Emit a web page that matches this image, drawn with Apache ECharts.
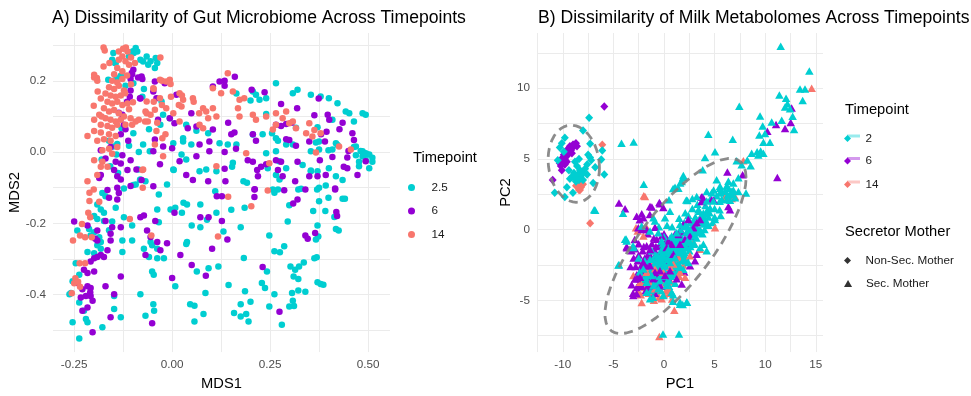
<!DOCTYPE html>
<html><head><meta charset="utf-8">
<script src="https://cdn.jsdelivr.net/npm/echarts@6/dist/echarts.min.js"></script>
<style>html,body{margin:0;padding:0;background:#fff}#c{width:971px;height:396px}</style>
</head><body><div id="c"></div>
<script>
// ---------- Panel A: Gut microbiome MDS (Timepoint 2.5 / 6 / 14) ----------
const a_t25 = [
[-0.093,0.292],[-0.1,0.283],[-0.065,0.268],[-0.074,0.254],[-0.061,0.245],[-0.042,0.264],[-0.15,0.278],[-0.146,0.25],[-0.11,0.268],[-0.098,0.278],[-0.044,0.236],[-0.142,0.207],[-0.099,0.193],[-0.163,0.203],[-0.027,0.142],[-0.006,0.095],[-0.023,0.105],[0.062,0.06],[0.036,0.077],[0.092,0.053],[0.121,0.025],[0.142,0.021],[0.164,0.021],[0.206,0.049],[0.206,0.17],[0.214,0.161],[0.24,0.151],[0.223,0.147],[0.265,0.193],[0.308,0.165],[0.32,0.175],[0.354,0.161],[0.379,0.156],[0.4,0.151],[0.422,0.137],[0.443,0.114],[0.452,0.109],[0.486,0.109],[0.494,0.105],[0.409,0.091],[0.464,0.086],[0.375,0.03],[0.418,0.025],[0.354,0.002],[0.375,0.007],[0.409,0.007],[0.469,0.016],[0.486,0.002],[0.494,-0.003],[0.503,-0.007],[0.511,-0.016],[0.486,-0.012],[0.503,-0.045],[0.477,-0.04],[0.308,0.021],[0.265,0.039],[0.291,0.021],[0.265,0.002],[0.273,-0.026],[0.291,-0.045],[0.333,-0.036],[0.354,-0.054],[0.371,-0.054],[0.4,-0.045],[0.435,-0.078],[0.24,-0.003],[0.244,-0.045],[0.265,-0.064],[0.003,0.025],[0.028,0.03],[0.049,0.021],[0.024,-0.007],[0.003,-0.049],[0.036,-0.021],[0.07,-0.054],[0.087,-0.049],[0.113,-0.054],[-0.074,0.021],[-0.057,0.002],[-0.086,-0.049],[-0.082,-0.078],[-0.099,-0.092],[-0.15,0.016],[-0.142,-0.007],[-0.158,-0.04],[-0.138,-0.059],[-0.18,-0.021],[-0.129,0.067],[-0.099,0.053],[0.028,0.039],[0.155,-0.03],
[-0.153,0.259],[-0.144,0.25],[-0.081,0.259],[-0.055,0.255],[-0.038,0.25],[-0.089,0.282],[-0.076,0.155],[-0.059,0.064],[-0.03,0.077],[-0.11,0.018],[-0.161,0.032],[-0.14,0.023],[-0.072,0.177],[-0.131,0.214],[-0.119,0.186],[-0.085,0.0],[-0.081,-0.077],[-0.068,-0.082],[-0.093,-0.091],[-0.013,-0.091],[0.004,-0.05],
[0.24,0.107],[0.164,0.164],[0.2,0.145],[0.231,0.05],[0.27,0.032],[0.255,0.053],[0.367,0.027],[0.399,0.005],[0.422,0.02],[0.464,0.014],[0.469,-0.009],[0.481,0.003],[0.49,-0.003],[0.498,-0.007],[0.511,-0.027],[0.494,-0.023],[0.477,-0.027],[0.354,-0.052],[0.418,-0.068],[0.392,-0.094],[0.153,-0.041],[0.182,-0.082],[0.191,-0.086],[0.274,-0.077],[0.257,-0.105],[0.329,-0.103],[0.375,-0.1],[0.316,0.068],[0.371,0.07],
[-0.178,-0.115],[-0.17,-0.124],[-0.123,-0.102],[-0.191,-0.147],[-0.182,-0.161],[-0.174,-0.17],[-0.199,-0.179],[-0.191,-0.188],[-0.174,-0.193],[-0.212,-0.216],[-0.199,-0.225],[-0.186,-0.239],[-0.182,-0.252],[-0.208,-0.234],[-0.242,-0.22],[-0.191,-0.261],[-0.182,-0.271],[-0.216,-0.28],[-0.199,-0.284],[-0.246,-0.312],[-0.237,-0.344],[-0.254,-0.362],[-0.258,-0.395],[-0.262,-0.399],[-0.237,-0.422],[-0.225,-0.445],[-0.22,-0.468],[-0.216,-0.477],[-0.254,-0.477],[-0.237,-0.523],[-0.178,-0.491],[-0.131,-0.463],[-0.148,-0.404],[-0.148,-0.44],[-0.161,-0.219],[-0.123,-0.183],[-0.127,-0.248],[-0.102,-0.206],[-0.102,-0.248],[-0.127,-0.28],[-0.072,-0.271],[-0.055,-0.252],[-0.051,-0.261],[-0.059,-0.294],[-0.038,-0.271],[-0.038,-0.298],[-0.021,-0.298],[-0.034,-0.197],[-0.051,-0.335],[-0.047,-0.344],[-0.081,-0.399],[-0.048,-0.427],[-0.046,-0.445],[-0.068,-0.459],[0.008,-0.376],[-0.034,-0.119],[-0.038,-0.161],[-0.004,-0.161],[0.008,-0.156],[0.025,-0.17],[0.029,-0.142],[0.038,-0.147],[0.072,-0.147],[0.113,-0.17],[0.05,-0.206],[0.072,-0.211],[0.038,-0.252],[0.036,-0.258],[0.063,-0.335],[0.093,-0.326],[0.118,-0.321],[0.085,-0.395],[0.046,-0.427],[0.057,-0.431],[0.057,-0.475],[0.08,-0.454],[0.089,-0.19],[0.11,-0.11],[-0.144,-0.156],[-0.153,-0.195],
[0.261,-0.114],[0.27,-0.105],[0.322,-0.105],[0.37,-0.105],[0.299,-0.149],[0.375,-0.138],[0.399,-0.128],[0.435,-0.131],[0.441,-0.131],[0.36,-0.165],[0.391,-0.165],[0.414,-0.182],[0.295,-0.195],[0.371,-0.206],[0.418,-0.216],[0.425,-0.22],[0.151,-0.162],[0.185,-0.156],[0.131,-0.223],[0.175,-0.211],[0.248,-0.234],[0.367,-0.245],[0.373,-0.237],[0.286,-0.264],[0.261,-0.278],[0.275,-0.281],[0.363,-0.298],[0.369,-0.295],[0.183,-0.297],[0.242,-0.335],[0.302,-0.321],[0.314,-0.33],[0.324,-0.321],[0.336,-0.31],[0.31,-0.349],[0.322,-0.356],[0.229,-0.367],[0.237,-0.381],[0.144,-0.373],[0.186,-0.39],[0.371,-0.365],[0.379,-0.37],[0.386,-0.372],[0.261,-0.399],[0.306,-0.395],[0.322,-0.388],[0.34,-0.392],[0.2,-0.42],[0.175,-0.427],[0.158,-0.451],[0.189,-0.454],[0.175,-0.461],[0.195,-0.475],[0.248,-0.433],[0.299,-0.433],[0.311,-0.432],[0.308,-0.417],[0.28,-0.484]
];
const a_t6 = [
[-0.099,0.231],[-0.103,0.222],[-0.078,0.212],[-0.044,0.198],[-0.019,0.193],[-0.082,0.151],[-0.108,0.155],[-0.048,0.17],[-0.04,0.151],[0.011,0.161],[0.104,0.184],[0.121,0.198],[0.104,0.063],[0.095,0.03],[0.07,0.021],[0.049,0.109],[0.04,0.067],[0.062,0.072],[-0.006,0.095],[0.006,0.081],[-0.036,0.091],[-0.044,0.035],[-0.023,0.016],[-0.048,0.002],[0.0,0.011],[-0.031,-0.034],[0.019,-0.026],[0.062,-0.012],[0.095,0.002],[0.036,-0.064],[0.053,-0.078],[0.092,-0.082],[-0.048,-0.096],[-0.091,-0.049],[-0.078,-0.078],
[-0.106,0.205],[-0.102,0.218],[-0.087,0.209],[-0.106,0.173],[-0.081,0.15],[-0.076,0.205],[-0.115,0.141],[-0.127,0.105],[-0.136,0.11],[-0.123,0.077],[-0.119,0.064],[-0.131,0.05],[-0.112,0.032],[-0.182,0.005],[-0.157,0.014],[-0.17,-0.018],[-0.144,-0.027],[-0.131,-0.032],[-0.127,-0.009],[-0.106,-0.023],[-0.114,-0.05],[-0.148,-0.05],[-0.14,-0.068],[-0.131,-0.077],[-0.182,-0.064],[-0.186,-0.073],[-0.106,-0.095],[-0.14,-0.1],
[0.134,0.2],[0.16,0.211],[0.134,0.186],[0.203,0.175],[0.236,0.168],[0.278,0.135],[0.374,0.15],[0.319,0.123],[0.363,0.103],[0.397,0.105],[0.401,0.091],[0.435,0.082],[0.427,0.064],[0.46,0.053],[0.143,0.082],[0.151,0.05],[0.159,0.055],[0.206,0.05],[0.214,0.032],[0.265,0.077],[0.278,0.073],[0.291,0.079],[0.305,0.082],[0.291,0.036],[0.299,0.034],[0.316,0.018],[0.38,0.05],[0.394,0.057],[0.39,0.03],[0.35,0.03],[0.45,0.003],[0.447,-0.015],[0.464,0.034],[0.134,0.0],[0.163,0.009],[0.193,-0.023],[0.206,-0.027],[0.217,-0.05],[0.227,-0.041],[0.24,-0.034],[0.265,-0.023],[0.278,-0.027],[0.32,-0.027],[0.377,-0.023],[0.409,-0.014],[0.438,-0.041],[0.134,-0.047],[0.136,-0.082],[0.211,-0.104],[0.219,-0.068],[0.27,-0.05],[0.282,-0.068],[0.314,-0.082],[0.35,-0.068],[0.371,-0.068],[0.392,-0.064],[0.416,-0.102],[0.473,-0.064],[0.494,-0.026],[0.447,-0.045],
[-0.165,-0.106],[-0.136,-0.115],[-0.14,-0.133],[-0.161,-0.128],[-0.25,-0.195],[-0.216,-0.206],[-0.191,-0.22],[-0.17,-0.193],[-0.153,-0.211],[-0.131,-0.211],[-0.157,-0.229],[-0.191,-0.248],[-0.157,-0.248],[-0.165,-0.275],[-0.191,-0.294],[-0.182,-0.289],[-0.199,-0.298],[-0.174,-0.294],[-0.208,-0.307],[-0.225,-0.33],[-0.216,-0.339],[-0.199,-0.335],[-0.242,-0.367],[-0.216,-0.376],[-0.208,-0.381],[-0.229,-0.385],[-0.22,-0.404],[-0.208,-0.404],[-0.233,-0.408],[-0.203,-0.417],[-0.216,-0.436],[-0.229,-0.445],[-0.203,-0.505],[-0.17,-0.376],[-0.148,-0.399],[-0.131,-0.349],[-0.157,-0.463],[-0.081,-0.183],[-0.072,-0.178],[-0.064,-0.22],[-0.055,-0.238],[-0.043,-0.193],[-0.038,-0.252],[-0.03,-0.275],[-0.013,-0.256],[-0.068,-0.289],[0.021,-0.289],[0.006,-0.17],[0.072,-0.183],[0.093,-0.183],[0.102,-0.271],[0.05,-0.317],[0.086,-0.347],[0.0,-0.353],[-0.051,-0.48],[0.114,-0.124],[0.127,-0.124],[-0.196,-0.243],[-0.209,-0.393],
[0.21,-0.105],[0.21,-0.126],[0.286,-0.107],[0.34,-0.105],[0.416,-0.105],[0.32,-0.133],[0.309,-0.144],[0.419,-0.168],[0.421,-0.179],[0.127,-0.193],[0.141,-0.245],[0.34,-0.234],[0.346,-0.243],[0.365,-0.227],[0.231,-0.322],[0.274,-0.448]
];
const a_t14 = [
[-0.175,0.293],[-0.118,0.293],[-0.03,0.265],[-0.199,0.217],[-0.192,0.208],[-0.031,0.203],[-0.006,0.203],[-0.015,0.198],[0.142,0.221],[-0.048,0.179],[0.019,0.165],[0.053,0.151],[0.028,0.147],[-0.031,0.151],[0.104,0.179],[0.125,0.165],[0.155,0.17],[0.172,0.147],[0.184,0.151],[0.079,0.123],[0.087,0.114],[-0.065,0.142],[-0.044,0.119],[-0.015,0.123],[0.024,0.128],[0.003,0.109],[0.069,0.109],[0.104,0.123],[0.113,0.1],[0.092,0.095],[0.019,0.086],[-0.065,0.109],[-0.069,0.086],[0.168,0.123],[0.172,0.1],[0.206,0.105],[0.214,0.091],[0.24,0.1],[0.265,0.109],[0.282,0.095],[0.291,0.114],[0.299,0.081],[0.308,0.086],[0.265,0.077],[0.257,0.063],[0.316,0.067],[0.35,0.081],[0.342,0.053],[0.363,0.062],[0.379,0.053],[0.358,0.044],[0.426,0.016],[0.456,0.007],[0.367,-0.001],[0.079,0.067],[0.07,0.077],[0.189,-0.003],[-0.023,-0.012],[-0.044,0.021],[-0.025,0.039],[0.248,-0.031],[0.113,-0.04],[-0.074,-0.049],
[-0.172,0.285],[-0.136,0.282],[-0.114,0.282],[-0.127,0.268],[-0.136,0.259],[-0.119,0.255],[-0.11,0.245],[-0.14,0.236],[-0.127,0.227],[-0.148,0.218],[-0.153,0.2],[-0.14,0.195],[-0.127,0.205],[-0.199,0.209],[-0.191,0.2],[-0.161,0.182],[-0.148,0.177],[-0.136,0.186],[-0.123,0.173],[-0.17,0.164],[-0.157,0.159],[-0.144,0.155],[-0.131,0.159],[-0.182,0.15],[-0.165,0.141],[-0.153,0.136],[-0.14,0.141],[-0.127,0.132],[-0.114,0.136],[-0.174,0.123],[-0.161,0.114],[-0.148,0.118],[-0.136,0.109],[-0.123,0.1],[-0.186,0.105],[-0.17,0.095],[-0.157,0.091],[-0.144,0.086],[-0.131,0.091],[-0.106,0.095],[-0.093,0.086],[-0.199,0.091],[-0.182,0.077],[-0.165,0.073],[-0.153,0.068],[-0.14,0.077],[-0.119,0.077],[-0.102,0.077],[-0.216,0.045],[-0.199,0.059],[-0.182,0.055],[-0.161,0.05],[-0.144,0.045],[-0.174,0.036],[-0.157,0.032],[-0.191,0.032],[-0.161,0.009],[-0.178,0.005],[-0.14,0.014],[-0.153,-0.005],[-0.199,-0.023],[-0.178,-0.027],[-0.165,-0.041],[-0.182,-0.041],[-0.191,-0.064],[-0.216,-0.082],[-0.076,-0.05],[-0.068,0.114],[-0.055,0.105],[-0.038,0.082],[-0.026,0.2],[-0.004,0.191],[-0.047,0.177],[-0.047,0.141],[-0.026,0.132],[-0.003,0.155],[-0.017,0.05],[-0.04,0.059],[-0.062,0.086],[-0.085,0.091],[0.025,0.159],[0.017,0.132],[0.055,0.141],[-0.105,0.265],[-0.095,0.25],[-0.125,0.29],[-0.16,0.25],[-0.175,0.24],[-0.115,0.215],[-0.105,0.19],[-0.12,0.165],[-0.1,0.14],[-0.11,0.12],[-0.2,0.13],[-0.19,0.17],[-0.18,0.1],
[-0.211,-0.114],[-0.2,-0.105],[-0.211,-0.137],[-0.186,-0.139],[-0.214,-0.17],[-0.108,-0.188],[-0.209,-0.183],[-0.23,-0.202],[-0.253,-0.248],[-0.235,-0.234],[-0.222,-0.239],[-0.205,-0.239],[-0.053,-0.234],[0.117,-0.237],[0.143,-0.125],[0.202,-0.152],[0.244,-0.108],[-0.236,-0.312],[-0.222,-0.312],[-0.247,-0.354],[-0.25,-0.368],[-0.24,-0.364],[-0.256,-0.396],[-0.235,-0.378],[-0.075,-0.1]
];
const a_xTicks = [-0.25, 0, 0.25, 0.5];
const a_xGrid = [-0.25, -0.125, 0, 0.125, 0.25, 0.375, 0.5];
const a_yTicks = [-0.4, -0.2, 0, 0.2];
const a_yGrid = [-0.5, -0.4, -0.3, -0.2, -0.1, 0, 0.1, 0.2, 0.3];
const a_levels = ['2.5', '6', '14'];

// ---------- Panel B: Milk metabolome PCA (Timepoint 2 / 6 / 14 x Secretor) ----------
// Non-secretor mothers (diamonds)
const b_t2_ns = [[-7.4,7.9],[-8.0,7.0],[-9.8,6.5],[-10.3,5.8],[-6.1,5.6],[-7.5,5.3],[-7.3,5.1],[-6.2,4.95],[-6.8,4.4],[-10.5,4.9],[-8.6,4.5],[-8.3,4.2],[-8.9,4.0],[-9.1,3.7],[-8.2,3.8],[-7.8,4.3],[-7.6,4.6],[-8.7,3.4],[-9.3,3.6],[-8.0,3.5],[-7.6,3.9],[-5.9,3.9],[-10.8,2.6],[-9.6,3.0],[-9.8,2.3],[-9.0,2.6],[-7.2,4.9],[-9.9,5.5],[-10.1,6.1],[-7.0,3.3],[-8.4,5.0],[-7.3,6.07],[-8.8,4.8],[-9.4,4.2],[-8.5,3.9],[-8.7,3.6],[-8.4,3.5],[-8.1,4.0],[-8.9,3.9]];
const b_t6_ns = [[-10.3,4.7],[-10.1,4.9],[-10.0,5.1],[-9.8,5.0],[-9.9,5.3],[-9.6,5.2],[-9.7,5.5],[-9.4,5.4],[-9.5,5.7],[-9.2,5.6],[-9.3,5.9],[-9.0,5.8],[-8.9,6.0],[-8.7,6.1],[-8.6,5.9],[-9.1,5.4],[-9.8,4.6],[-10.2,4.5],[-10.1,4.2],[-9.6,4.8],[-5.9,8.7],[-11.0,3.5],[-9.4,5.6],[-9.6,5.4],[-9.8,5.2],[-10.0,4.9],[-9.2,5.8],[-9.0,6.0]];
const b_t14_ns = [[-6.1,6.0],[-8.5,3.3],[-8.2,3.0],[-8.4,2.8],[-8.0,3.2],[-8.7,3.1],[-7.3,0.45],[-10.1,5.0],[-8.3,2.8]];
// Secretor mothers (triangles): points seen on top
const b_t2_s = [[-4.2,6.1],[-3.0,6.2],[-2.0,3.2],[-6.9,1.4],[-4.05,1.15],[-6.8,1.36],[-3.75,-0.66],[-3.06,-1.15],[-4.45,-2.48],[2.27,-5.14],[1.58,-5.28],[0.89,-5.07],[-0.1,-7.38],[1.48,-7.38],[-1.09,-4.79],
[0.49,2.11],[2.31,2.06],[1.42,2.93],[3.23,2.34],[4.22,2.69],[4.9,2.8],[5.53,2.93],[6.2,3.1],[6.85,2.8],[6.69,2.46],[7.35,2.7],[8.1,2.58],[6.19,2.11],[6.3,2.45],[4.55,1.53],[3.89,1.18],[3.4,1.4],[5.04,0.71],[4.22,0.48],[3.56,0.01],[3.06,-0.45],[2.57,0.01],[2.08,0.24],[1.58,0.36],[1.25,-0.22],[0.76,-0.45],[2.31,-0.8],[2.9,-1.04],[3.56,-1.27],[3.89,-1.04],[4.22,-1.5],[1.58,-1.62],[1.9,-2.09],[2.4,-2.32],[1.58,-2.67],[1.09,-1.97],[0.59,-2.32],[0.43,-1.39],[-0.07,-1.85],[-0.56,-2.32],[0.1,-2.55],[-0.4,-3.6],[0.26,-3.72],[-1.05,-3.95],[-1.71,-3.72],[-1.21,-3.25],[0.76,-4.42],[-0.07,-4.65],[-1.38,-4.88],[1.58,-5.12],[2.24,-5.12],[1.85,-5.3],[-4.51,-2.51],[-3.85,-0.69],[-3.7,-0.8],[-3.03,-1.27],[-2.21,0.25],[-1.05,0.83],[-0.9,0.6],[0.1,0.83],[0.59,1.3],[-1.38,-0.1],[-0.56,-0.22],[-0.23,-0.8],[-1.38,-2.09],[-2.04,-2.79],[-1.71,-4.42],[-0.56,-4.18],[0.26,-3.95],[0.9,2.9],[1.6,3.3],[1.9,3.7],
[11.53,12.97],[14.36,11.22],[13.44,9.94],[13.93,9.94],[13.7,9.12],[11.4,9.52],[12.06,9.29],[12.2,8.9],[11.96,8.66],[12.45,8.54],[12.71,8.01],[11.63,7.73],[9.49,8.03],[9.75,7.33],[10.64,7.61],[9.42,6.68],[9.98,6.8],[9.82,6.17],[10.47,6.17],[12.85,7.08],[7.44,8.73],[6.79,6.38],[4.38,6.75],[5.04,5.51],[4.05,5.09],[3.82,4.23],[8.66,5.39],[9.2,5.5],[9.55,5.56],[9.82,5.39],[9.32,5.28],[8.23,4.93],[8.56,4.51],[7.67,4.58],[7.18,4.86],[1.91,3.83],[1.75,3.4],[1.09,3.0],[2.2,2.1],[5.2,3.53],[5.53,3.07],[6.36,3.42],[6.85,3.3],[7.35,3.66],[6.03,2.72],[6.69,2.72],[5.53,2.6],[4.71,2.6],[7.02,2.25],[4.88,2.02],[4.22,2.02],[5.7,2.14],[6.52,2.07]];
const b_t6_s = [[-4.45,1.88],[-3.85,1.48],[-2.7,0.94],[-2.4,0.7],[-2.04,0.83],[-2.54,0.13],[-2.2,0.0],[-1.71,0.01],[-0.89,0.17],[-0.46,1.92],[-0.07,1.57],[-1.38,1.64],[-3.69,-1.22],[-3.2,-1.5],[-1.71,-1.15],[-1.38,-1.4],[-0.72,-0.69],[-0.23,-0.45],[0.43,-0.8],[0.26,-1.27],[0.76,-1.04],[0.92,-1.74],[1.58,-1.04],[2.07,-0.69],[2.57,-0.45],[2.9,0.13],[3.56,0.71],[3.23,0.48],[2.4,0.71],[1.9,0.36],[1.4,-0.34],[-2.04,-2.32],[-1.38,-2.55],[-0.89,-3.02],[-0.4,-2.9],[0.1,-3.25],[0.59,-2.9],[1.25,-3.48],[1.75,-3.84],[-2.37,-3.37],[-2.87,-3.49],[-2.7,-4.53],[-3.03,-4.65],[-1.55,-3.95],[-0.4,-3.95],[-1.05,-3.48],[2.57,-2.55],[3.06,-2.2],[3.23,-1.74],[3.72,1.99],[4.71,2.11],[6.36,1.64],[6.52,1.4],[-2.87,-1.36],[-3.66,-1.29],[-3.06,-4.5],[-2.67,-3.46],[-1.88,-2.55],[-1.2,1.6],[-0.4,1.83],[-2.2,1.13],[-1.4,1.06],[3.7,2.3],
[6.26,4.07],[7.77,3.88],[11.2,3.69],[12.61,8.59],[12.52,7.57],[11.07,7.43],[11.96,7.15],[10.21,6.96],[3.82,2.3],[4.9,2.1]];
const b_t14_s = [[-1.88,2.34],[-2.77,0.13],[-2.6,-0.1],[-1.71,0.13],[-2.04,-0.45],[6.19,2.34],[6.69,2.2],[7.02,2.34],[5.04,0.13],[3.56,-1.39],[2.57,-1.85],[1.42,-1.97],[0.92,-2.44],[0.59,-2.67],[-0.07,-3.02],[-0.89,-2.79],[-1.71,-3.02],[-1.88,-2.67],[-2.37,-3.72],[-1.38,-3.83],[-0.89,-4.18],[-0.07,-3.95],[0.43,-4.18],[-0.23,-4.88],[-2.21,-5.16],[1.02,-5.7],[-0.46,-7.56],[-3.03,-3.25],[1.58,-3.02],[2.08,-3.37],[14.59,9.99],[7.84,4.86],[6.69,2.32],[6.03,2.25],[-2.0,2.4]];
// Secretor mothers (triangles): dense, overlapping core of the cloud (largely hidden)
const b_t2_s_core = [[2.5,-0.5],[3.0,0.3],[3.5,-0.2],[4.0,0.8],[4.5,1.2],[5.0,1.5],[5.5,2.0],[6.0,2.3],[2.0,-1.0],[1.5,-1.3],[1.0,-2.0],[0.5,-2.5],[0.0,-3.0],[3.0,-1.0],[4.0,0.0],[4.8,0.5],[5.6,1.0],[2.2,-2.2],[1.0,-3.2],[0.3,-3.3],[-0.5,-3.0],[-1.0,-3.3],
[-1.5,-2.8],[-1.0,-2.5],[-0.8,-1.8],[-0.3,-1.5],[0.2,-1.0],[0.6,-0.6],[1.0,-0.9],[1.3,-1.4],[1.8,-0.6],[2.2,-0.2],[2.6,0.5],[3.1,0.9],[3.5,1.3],[4.1,1.7],[4.6,2.2],[5.2,2.4],[5.8,2.6],[6.4,2.9],[0.0,-2.0],[0.4,-1.9],[0.8,-1.5],[1.2,-0.5],[1.6,0.0],[2.0,0.5],[2.4,1.0],[2.8,1.5],[3.3,1.8],[3.8,2.1],[-0.5,-2.6],[-0.2,-2.2],[0.3,-2.8],[0.7,-3.3],[1.2,-2.6],[1.6,-2.2],[2.0,-1.6],[2.6,-1.2],[3.2,-0.6],[3.8,-0.3],[4.4,0.3],[5.0,0.9],[5.5,1.4],[-1.8,-3.4],[-1.4,-3.0],[-0.8,-3.8],[-0.3,-4.3],[0.5,-4.0],[1.1,-3.8],[0.9,-4.6],[-2.5,-2.0],[-1.2,-1.5],[0.0,-0.5],[0.8,0.2],[1.5,0.8],[2.1,1.2],[2.8,2.2],[-0.5,0.2],[0.3,0.3],
[-2.0,-3.5],[-1.6,-3.2],[-1.2,-2.9],[-0.8,-2.6],[-0.4,-2.3],[0.0,-2.5],[0.4,-2.1],[0.8,-1.8],[1.2,-1.6],[1.6,-1.2],[2.0,-0.8],[2.4,-0.5],[2.8,-0.1],[3.2,0.2],[3.6,0.5],[4.0,0.4],[4.4,0.9],[0.6,-2.6],[1.0,-2.3],[1.4,-1.9],[1.8,-1.5],[2.2,-1.3],[2.6,-0.9],[3.0,-0.5],[3.4,-0.1],[-0.6,-1.9],[-0.2,-1.7],[0.2,-1.4],[0.6,-1.1],[1.0,-0.7],[1.4,-0.9],[1.8,-1.9],[0.2,-3.0],[-0.4,-3.3],[-1.0,-3.7],[0.5,-3.6],[1.3,-3.0],[1.9,-2.8],[-2.4,-3.0],[-1.9,-2.2],[2.3,0.2],[2.9,0.6],[3.7,1.0],[4.3,1.4],[1.1,-1.2],[0.9,-2.9],[-0.1,-2.8],[-1.3,-4.3],
[-0.7,-2.9],[-0.2,-3.2],[0.6,-2.3],[1.5,-1.6],[2.3,-0.7],[0.1,-1.6],[-1.1,-2.1],[1.7,-0.9],[2.7,0.1],[3.1,-0.2],
[-0.5,-2.0],[0.0,-1.2],[0.4,-1.6],[0.9,-1.2],[1.3,-0.8],[1.7,-1.4],[2.1,-1.9],[2.5,-1.5],[0.7,-2.0],[0.2,-2.6],[-0.3,-3.0],[1.4,-2.4],[1.9,-1.2],[2.4,-0.2],[3.3,0.6],[1.0,-1.6],[-0.9,-2.4],[0.5,-0.9],[1.6,-0.5],[2.9,-0.3],[3.6,0.9],[4.2,1.1],[-0.1,-1.0],[0.8,-2.5],[1.2,-1.0]];
const b_t6_s_core = [[-2.8,-2.6],[-2.3,-2.9],[-1.9,-3.3],[-2.5,-1.8],[-1.6,-1.8],[-1.0,-2.0],[-0.6,-2.5],[-0.1,-2.4],[-2.2,-4.0],[-1.8,-4.3],[-1.3,-4.1],[-0.9,-4.5],[-2.5,-3.9],[-3.2,-3.9],[-0.5,-1.2],[0.0,-0.3],[-1.0,-0.6],[-2.9,-0.7],[-2.5,-1.0],[0.5,-2.0],[1.0,-2.4],[1.5,-2.8],[2.0,-3.0],[-0.2,-3.5],[1.8,-0.2],[2.3,-1.2],[-1.6,-0.3],[-3.3,-2.6],
[-2.0,-2.8],[-1.5,-2.4],[-1.1,-2.8],[-0.7,-3.2],[-0.3,-3.0],[-1.7,-3.7],[-2.3,-3.5],[-0.5,-1.8],[0.1,-1.8],[0.5,-1.4],[-1.3,-1.9],[-2.1,-1.5],[-0.8,-1.2],[0.3,-0.7],[1.1,-0.3],[-1.9,-2.0],[-1.4,-3.4],[-0.9,-3.9],[-2.7,-3.2],[-0.2,-4.0],
[-2.6,-2.2],[-2.2,-2.5],[-1.8,-2.6],[-1.4,-2.7],[-1.0,-3.1],[-0.6,-3.5],[-0.2,-2.7],[0.2,-2.2],[-1.2,-1.0],[-0.9,-1.5],[-2.0,-1.2],[-2.4,-3.0],[-1.6,-4.0],[-0.5,-4.2],[0.4,-3.4],[0.8,-2.7],[-3.0,-2.0],[-2.7,-4.1],[1.3,-1.8],[-0.3,-0.9]];
const b_t14_s_core = [[-0.6,-3.4],[-1.2,-3.6],[0.2,-3.5],
[-1.5,-4.5],[-0.7,-4.5],[0.0,-4.6],[0.7,-3.7],[-1.2,-2.3],[-0.3,-2.0],[0.3,-2.3],[-1.9,-4.1],[-2.6,-4.4],[-1.0,-5.0],[0.8,-4.9],[1.9,-2.5],[2.9,-0.9],[-0.6,-3.0],
[-1.3,-3.9],[-0.8,-4.1],[-0.3,-3.8],[0.4,-3.1],[-1.6,-3.3],[-0.5,-4.8],[0.2,-4.3],[-2.0,-3.8],[1.2,-2.2],[0.0,-3.3],
[-1.7,-4.4],[-1.1,-4.6],[-0.4,-4.3],[0.5,-4.5],[-2.3,-4.6],[-1.4,-3.6],[-0.9,-3.3],[-0.1,-3.6],[0.6,-3.0],[1.1,-2.8],[-2.1,-3.4],[-0.4,-2.6],[1.5,-3.3],[0.1,-4.0]];
const b_xTicks = [-10, -5, 0, 5, 10, 15];
const b_xGrid = [-12.5, -10, -7.5, -5, -2.5, 0, 2.5, 5, 7.5, 10, 12.5, 15];
const b_yTicks = [-5, 0, 5, 10];
const b_yGrid = [-7.5, -5, -2.5, 0, 2.5, 5, 7.5, 10, 12.5];
const b_levels = ['2', '6', '14'];
const b_shapes = ['Non-Sec. Mother', 'Sec. Mother'];

// ---------- styling ----------
const FONT = "'Liberation Sans', Arial, Helvetica, sans-serif";
const COLORS = ['#00CED1', '#9400D3', '#F8766D'];
const DIAMOND = 'path://M0,-1L1,0L0,1L-1,0Z';
const TRIANGLE = 'path://M0,0L1,1.732L-1,1.732Z';

// stat_ellipse (type "t", level 0.95) : robust multivariate-t covariance like MASS::cov.trob
function tEllipse(pts, level, nu, segs) {
  const n = pts.length;
  let w = new Array(n).fill(1);
  let mx = 0, my = 0;
  pts.forEach(p => { mx += p[0]; my += p[1]; });
  mx /= n; my /= n;
  for (let it = 0; it < 500; it++) {
    let sw = 0, sxx = 0, sxy = 0, syy = 0;
    for (let i = 0; i < n; i++) {
      const dx = pts[i][0] - mx, dy = pts[i][1] - my;
      sw += w[i]; sxx += w[i] * dx * dx; sxy += w[i] * dx * dy; syy += w[i] * dy * dy;
    }
    sxx /= sw; sxy /= sw; syy /= sw;
    const det = sxx * syy - sxy * sxy;
    const w0 = w.slice();
    for (let i = 0; i < n; i++) {
      const dx = pts[i][0] - mx, dy = pts[i][1] - my;
      const q = (syy * dx * dx - 2 * sxy * dx * dy + sxx * dy * dy) / det;
      w[i] = (nu + 2) / (nu + q);
    }
    let s = 0, ax = 0, ay = 0;
    for (let i = 0; i < n; i++) { s += w[i]; ax += w[i] * pts[i][0]; ay += w[i] * pts[i][1]; }
    mx = ax / s; my = ay / s;
    let diff = 0;
    for (let i = 0; i < n; i++) diff = Math.max(diff, Math.abs(w[i] - w0[i]));
    if (diff < 1e-7) break;
  }
  let a = 0, b = 0, c = 0;
  for (let i = 0; i < n; i++) {
    const dx = pts[i][0] - mx, dy = pts[i][1] - my;
    a += w[i] * dx * dx; b += w[i] * dx * dy; c += w[i] * dy * dy;
  }
  a /= n; b /= n; c /= n;
  const d = n - 1;
  const qf = (d / 2) * (Math.pow(1 - level, -2 / d) - 1);
  const radius = Math.sqrt(2 * qf);
  const r11 = Math.sqrt(a), r12 = b / r11, r22 = Math.sqrt(c - r12 * r12);
  const out = [];
  for (let k = 0; k <= segs; k++) {
    const t = 2 * Math.PI * k / segs, u = Math.cos(t), v = Math.sin(t);
    out.push([mx + radius * u * r11, my + radius * (u * r12 + v * r22)]);
  }
  return out;
}
const ellNonSec = tEllipse([].concat(b_t2_ns, b_t6_ns, b_t14_ns), 0.95, 5, 51);
const ellSec = tEllipse([].concat(b_t2_s, b_t6_s, b_t14_s, b_t2_s_core, b_t6_s_core, b_t14_s_core), 0.95, 5, 51);

function valueAxis(gi, min, max, grid, ticks, fmt, name, gap) {
  return {
    gridIndex: gi, type: 'value', min: min, max: max,
    axisLine: { show: false }, axisTick: { show: false, customValues: grid },
    axisLabel: { customValues: ticks, formatter: fmt, color: '#4D4D4D', fontSize: 11.7, margin: 7, fontFamily: FONT },
    splitLine: { show: true, lineStyle: { color: '#EBEBEB', width: 1 } },
    name: name, nameLocation: 'middle', nameGap: gap,
    nameTextStyle: { color: '#000', fontSize: 14.7, fontFamily: FONT }
  };
}

const series = [];
[a_t25, a_t6, a_t14].forEach((d, i) => series.push({
  type: 'scatter', name: a_levels[i], xAxisIndex: 0, yAxisIndex: 0, data: d,
  symbol: 'circle', symbolSize: 6.5, itemStyle: { color: COLORS[i], opacity: 1 }, z: 2 + i * 0.01
}));
[b_t14_ns, b_t6_ns, b_t2_ns].forEach((d, j) => {
  const i = 2 - j;
  series.push({ type: 'scatter', name: b_levels[i], xAxisIndex: 1, yAxisIndex: 1, data: d,
    symbol: 'diamond', symbolSize: [8, 8.5], itemStyle: { color: COLORS[i], opacity: 1 }, z: 2 });
});
// triangles: hidden core first, then the visible points
[[b_t14_s_core, 2], [b_t6_s_core, 1], [b_t2_s_core, 0], [b_t14_s, 2], [b_t6_s, 1], [b_t2_s, 0]].forEach(([d, i]) => {
  series.push({ type: 'scatter', name: b_levels[i], xAxisIndex: 1, yAxisIndex: 1, data: d,
    symbol: 'triangle', symbolSize: [8.5, 7.5], itemStyle: { color: COLORS[i], opacity: 1 }, z: 2 });
});
[ellNonSec, ellSec].forEach(e => series.push({
  type: 'line', xAxisIndex: 1, yAxisIndex: 1, data: e, showSymbol: false, symbol: 'none', smooth: false,
  lineStyle: { color: '#808080', width: 2.8, type: [9, 6], opacity: 0.9 }, z: 5, silent: true
}));
series.push({ type: 'scatter', name: b_shapes[0], xAxisIndex: 1, yAxisIndex: 1, data: [], itemStyle: { color: '#000' } });
series.push({ type: 'scatter', name: b_shapes[1], xAxisIndex: 1, yAxisIndex: 1, data: [], itemStyle: { color: '#000' } });

function legendRow(name, icon, left, cy, w, h) {
  return { data: [{ name: name, icon: icon }], left: left, top: cy - h / 2, orient: 'vertical',
    itemWidth: w, itemHeight: h, padding: 0, itemGap: 0, selectedMode: false,
    textStyle: { fontSize: 11.7, color: '#1A1A1A', fontFamily: FONT, lineHeight: h } };
}
const legends = [];
const aRows = [185, 208.5, 232];
a_levels.forEach((n, i) => legends.push(legendRow(n, 'circle', 408, aRows[i], 30, 7)));
const bRows = [136, 158.5, 182];
b_levels.forEach((n, i) => legends.push(legendRow(n, DIAMOND, 844, bRows[i], 26, 7)));
legends.push(legendRow(b_shapes[0], DIAMOND, 844, 258, 26, 7));
legends.push(legendRow(b_shapes[1], TRIANGLE, 844, 281, 26, 7));

const graphics = bRows.map((y, i) => ({
  type: 'rect', z: 1, shape: { x: 847, y: y - 1.5, width: 13, height: 3 },
  style: { fill: COLORS[i], opacity: 0.4 }
}));

const ttl = (text, left, top, size) => ({ text: text, left: left, top: top, padding: 0,
  textStyle: { fontSize: size, fontWeight: 'normal', color: '#000', fontFamily: FONT } });

const option = {
  animation: false,
  backgroundColor: '#fff',
  title: [
    ttl('A) Dissimilarity of Gut Microbiome Across Timepoints', 52, 9, 17.6),
    ttl('B) Dissimilarity of Milk Metabolomes Across Timepoints', 538, 9, 17.6),
    ttl('Timepoint', 413, 150.5, 14.7),
    ttl('Timepoint', 845, 102.5, 14.7),
    ttl('Secretor Mother', 845, 224.5, 14.7)
  ],
  grid: [
    { left: 53, top: 33, width: 337, height: 324, containLabel: false },
    { left: 537, top: 33, width: 286, height: 324, containLabel: false }
  ],
  xAxis: [
    valueAxis(0, -0.304, 0.556, a_xGrid, a_xTicks, v => v.toFixed(2), 'MDS1', 23),
    valueAxis(1, -12.55, 15.71, b_xGrid, b_xTicks, v => String(v), 'PC1', 23)
  ],
  yAxis: [
    valueAxis(0, -0.561, 0.334, a_yGrid, a_yTicks, v => v.toFixed(1), 'MDS2', 30),
    valueAxis(1, -8.66, 13.9, b_yGrid, b_yTicks, v => String(v), 'PC2', 24)
  ],
  legend: legends,
  graphic: graphics,
  series: series
};
const chart = echarts.init(document.getElementById('c'), null, { renderer: 'canvas' });
chart.setOption(option);
</script></body></html>
